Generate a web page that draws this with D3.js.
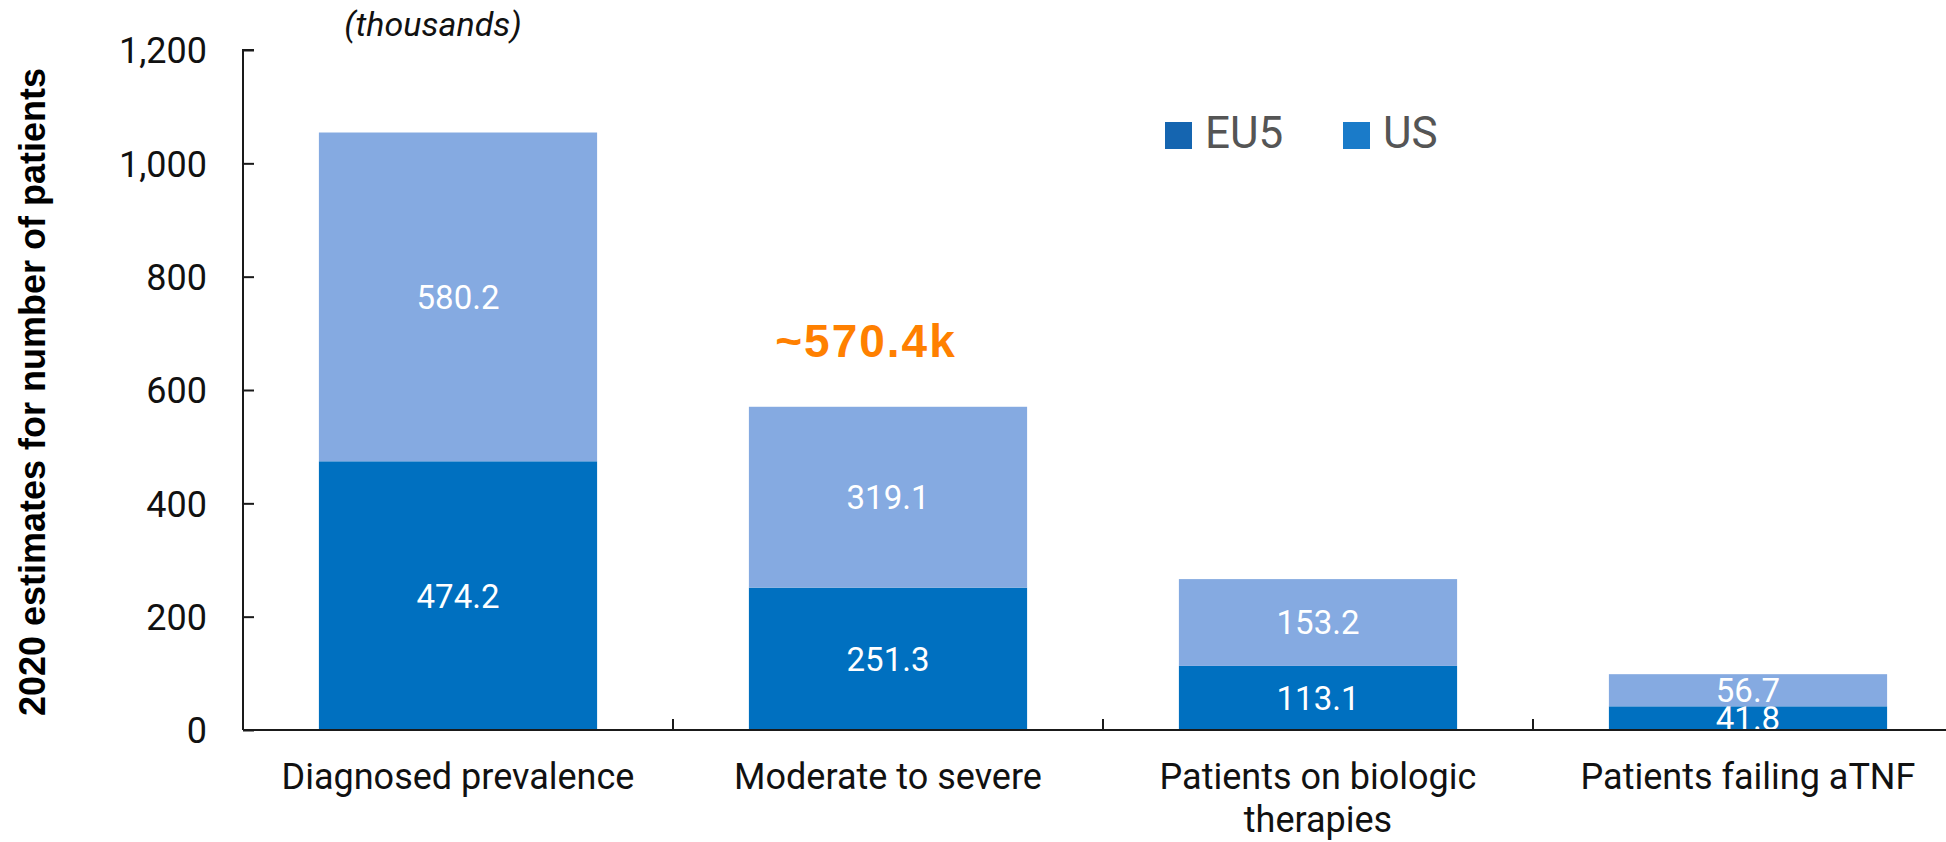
<!DOCTYPE html>
<html>
<head>
<meta charset="utf-8">
<script src="https://cdn.jsdelivr.net/npm/d3@7"></script>
<style>
  html, body { margin: 0; padding: 0; background: #ffffff; }
  svg { display: block; }
</style>
</head>
<body>
<svg id="chart" width="1946" height="842"></svg>
<script>
// Patient funnel, 2020 estimates (thousands)
const categories = [
  "Diagnosed prevalence",
  "Moderate to severe",
  "Patients on biologic\ntherapies",
  "Patients failing aTNF"
];
const lowerValues = [474.2, 251.3, 113.1, 41.8];   // darker segment
const upperValues = [580.2, 319.1, 153.2, 56.7];   // lighter segment
const yTicks = [0, 200, 400, 600, 800, 1000, 1200];
const legendLabels = ["EU5", "US"];
const calloutIndex = 1;
const calloutText = "~570.4k";

const svg = d3.select("#chart");
const fontMain = "Roboto, 'Liberation Sans', Arial, sans-serif";

const x = d3.scaleBand()
  .domain(categories)
  .range([243, 243 + 4 * 430])
  .paddingInner(0.353)
  .paddingOuter(0.1765);

const y = d3.scaleLinear().domain([0, 1200]).range([730, 50]);

const colorLower = "#0070C0";
const colorUpper = "#85AAE1";

// stacked data
const rows = categories.map((c, i) => ({ cat: c, lower: lowerValues[i], upper: upperValues[i] }));
const stack = d3.stack().keys(["lower", "upper"])(rows);
const colors = { lower: colorLower, upper: colorUpper };

const layers = svg.append("g").selectAll("g")
  .data(stack)
  .join("g")
  .attr("fill", d => colors[d.key]);

layers.selectAll("rect")
  .data(d => d)
  .join("rect")
  .attr("x", d => x(d.data.cat))
  .attr("width", x.bandwidth())
  .attr("y", d => y(d[1]))
  .attr("height", d => y(d[0]) - y(d[1]));

// segment value labels
layers.selectAll("text")
  .data(d => d.map(s => ({ s, key: d.key })))
  .join("text")
  .attr("x", d => x(d.s.data.cat) + x.bandwidth() / 2)
  .attr("y", d => (y(d.s[0]) + y(d.s[1])) / 2)
  .attr("dy", "0.36em")
  .attr("text-anchor", "middle")
  .attr("fill", "#ffffff")
  .style("font-family", fontMain)
  .style("font-size", "33px")
  .text(d => d.s.data[d.key].toFixed(1));

// y axis
const yAxis = d3.axisLeft(y)
  .tickValues(yTicks)
  .tickSize(-11)
  .tickFormat(d3.format(","));

const gy = svg.append("g")
  .attr("transform", "translate(243,0)")
  .call(yAxis);
gy.select(".domain").attr("stroke", "#1a1a1a").attr("stroke-width", 2)
  .attr("d", `M11,${y(1200)}H0V${y(0)}`);
gy.selectAll(".tick line").attr("stroke", "#1a1a1a").attr("stroke-width", 2);
gy.selectAll(".tick text")
  .attr("x", -36)
  .attr("dy", "0.36em")
  .attr("fill", "#111")
  .style("font-family", fontMain)
  .style("font-size", "36px");

// x axis baseline and category separators
const gx = svg.append("g");
gx.append("line")
  .attr("x1", 243).attr("x2", 1946)
  .attr("y1", y(0)).attr("y2", y(0))
  .attr("stroke", "#1a1a1a").attr("stroke-width", 2);
const boundaries = categories.map((c, i) => x.range()[0] + x.step() * (i + 1));
gx.selectAll("line.sep")
  .data(boundaries)
  .join("line")
  .attr("class", "sep")
  .attr("x1", d => d).attr("x2", d => d)
  .attr("y1", y(0)).attr("y2", y(0) - 11)
  .attr("stroke", "#1a1a1a").attr("stroke-width", 2);

// category labels
gx.selectAll("text.cat")
  .data(categories)
  .join("text")
  .attr("class", "cat")
  .attr("text-anchor", "middle")
  .attr("fill", "#111")
  .style("font-family", fontMain)
  .style("font-size", "36px")
  .each(function (d) {
    const t = d3.select(this);
    d.split("\n").forEach((line, i) => {
      t.append("tspan")
        .attr("x", x(d) + x.bandwidth() / 2)
        .attr("y", 789 + i * 43)
        .text(line);
    });
  });

// y axis title
svg.append("text")
  .attr("transform", `translate(45,${(y(0) + y(1200)) / 2 + 2}) rotate(-90)`)
  .attr("text-anchor", "middle")
  .attr("fill", "#000")
  .style("font-family", "'Liberation Sans', Arial, sans-serif")
  .style("font-weight", "bold")
  .style("font-size", "36px")
  .text("2020 estimates for number of patients");

// units note
svg.append("text")
  .attr("x", 433).attr("y", 36)
  .attr("text-anchor", "middle")
  .attr("fill", "#111")
  .style("font-family", fontMain)
  .style("font-style", "italic")
  .style("font-size", "34px")
  .text("(thousands)");

// total callout above the second bar
const calloutTotal = lowerValues[calloutIndex] + upperValues[calloutIndex];
svg.append("text")
  .attr("x", x(categories[calloutIndex]) + x.bandwidth() / 2 - 22)
  .attr("y", y(calloutTotal) - 50)
  .attr("text-anchor", "middle")
  .attr("fill", "#FF8000")
  .style("font-family", "'Liberation Sans', Arial, sans-serif")
  .style("font-weight", "bold")
  .style("font-size", "46px")
  .style("letter-spacing", "2px")
  .text(calloutText);

// legend
const legendColors = ["#1565B0", "#1A7BC9"];
const legendX = [1165, 1343];
const legend = svg.append("g");
legendLabels.forEach((lab, i) => {
  legend.append("rect")
    .attr("x", legendX[i]).attr("y", 122)
    .attr("width", 27).attr("height", 27)
    .attr("fill", legendColors[i]);
  legend.append("text")
    .attr("x", legendX[i] + 40).attr("y", 148)
    .attr("fill", "#555")
    .style("font-family", fontMain)
    .style("font-size", "44px")
    .text(lab);
});
</script>
</body>
</html>
